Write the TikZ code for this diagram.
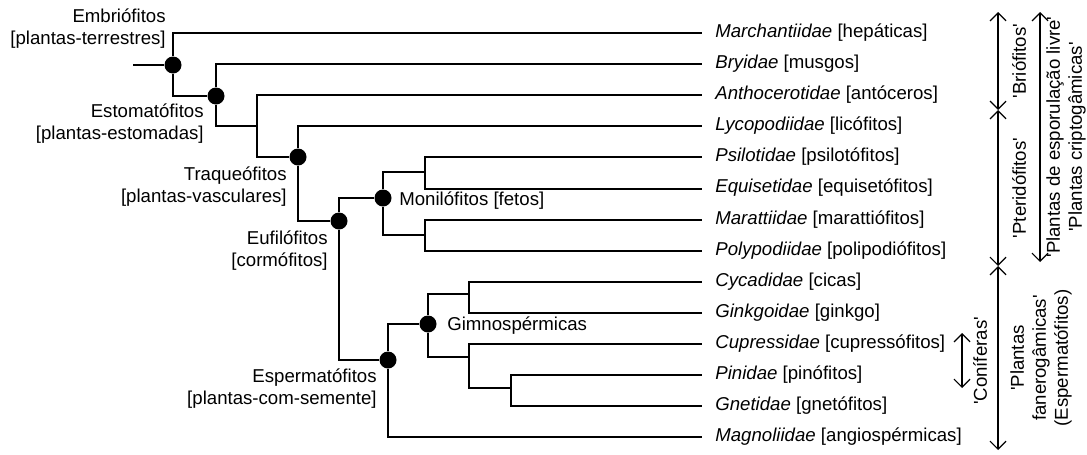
\documentclass[tikz,border=0pt]{standalone}
\usepackage{fontspec}
\setmainfont{Liberation Sans}[Ligatures=TeXOff]
\usetikzlibrary{arrows.meta}

\begin{document}
\begin{tikzpicture}[x=0.02cm,y=-0.02cm,
    font=\fontsize{10.6}{12.5}\selectfont,
    twig/.style={line width=1.13pt},
    knot/.style={circle,fill,inner sep=0pt,minimum size=0.34cm},
    leaf/.style={anchor=west,inner xsep=0.26cm,inner ysep=0pt,text height=0.72em,text depth=0.21em},
    cladetext/.style={anchor=east,align=right,inner sep=0pt},
    rangearrow/.style={{Straight Barb[length=1.6mm,width=3.2mm]}-{Straight Barb[length=1.6mm,width=3.2mm]},line width=0.7pt},
    rangetext/.style={rotate=90,align=center,inner sep=0pt}]
  \useasboundingbox (0,0) rectangle (1087,454);

  % terminal taxa
  \foreach \nm/\gen/\com [count=\i from 0] in {march/Marchantiidae/hepáticas,bry/Bryidae/musgos,
      antho/Anthocerotidae/antóceros,lyco/Lycopodiidae/licófitos,psil/Psilotidae/psilotófitos,
      equi/Equisetidae/equisetófitos,marat/Marattiidae/marattiófitos,poly/Polypodiidae/polipodiófitos,
      cyca/Cycadidae/cicas,gink/Ginkgoidae/ginkgo,cupr/Cupressidae/cupressófitos,
      pini/Pinidae/pinófitos,gnet/Gnetidae/gnetófitos,magn/Magnoliidae/angiospérmicas}
    \node[leaf] (\nm) at (702,33+31.1*\i) {\textit{\gen} [\com]};

  \coordinate (root) at (133,65);
  \node[knot] (embr) at (173,65) {};
  \node[knot] (estom) at (216,96) {};
  \coordinate (antho-j) at (257,126);
  \node[knot] (traq) at (298,157) {};
  \node[knot] (eufil) at (339,221) {};
  \node[knot] (monil) at (383,198) {};
  \coordinate (psil-j) at (425,172);
  \coordinate (marat-j) at (425,235);
  \node[knot] (esperm) at (388,360) {};
  \node[knot] (gimno) at (428,324) {};
  \coordinate (cyca-j) at (469,294);
  \coordinate (cupr-j) at (469,357);
  \coordinate (pini-j) at (511,388);

  \draw[twig] (root) -- (embr)
    (embr) |- (march.west) (embr) |- (estom)
    (estom) |- (bry.west) (estom) |- (antho-j)
    (antho-j) |- (antho.west) (antho-j) |- (traq)
    (traq) |- (lyco.west) (traq) |- (eufil)
    (eufil) |- (monil) (eufil) |- (esperm)
    (monil) |- (psil-j) (monil) |- (marat-j)
    (psil-j) |- (psil.west) (psil-j) |- (equi.west)
    (marat-j) |- (marat.west) (marat-j) |- (poly.west)
    (esperm) |- (gimno) (esperm) |- (magn.west)
    (gimno) |- (cyca-j) (gimno) |- (cupr-j)
    (cyca-j) |- (cyca.west) (cyca-j) |- (gink.west)
    (cupr-j) |- (cupr.west) (cupr-j) |- (pini-j)
    (pini-j) |- (pini.west) (pini-j) |- (gnet.west);

  \node[cladetext] (embr-l) at (166,29) {Embriófitos\\{}[plantas-terrestres]};
  \node[cladetext] (estom-l) at (204,124) {Estomatófitos\\{}[plantas-estomadas]};
  \node[cladetext] (traq-l) at (287,187) {Traqueófitos\\{}[plantas-vasculares]};
  \node[cladetext] (eufil-l) at (328,251) {Eufilófitos\\{}[cormófitos]};
  \node[cladetext] (esperm-l) at (377,389) {Espermatófitos\\{}[plantas-com-semente]};
  \node[anchor=west,inner sep=0pt] (monil-l) at (399,201) {Monilófitos [fetos]};
  \node[anchor=west,inner sep=0pt] (gimno-l) at (447,326) {Gimnospérmicas};

  % informal groups
  \coordinate (bri-t) at (998,12);
  \coordinate (bri-b) at (998,110);
  \coordinate (pter-b) at (998,266);
  \coordinate (fan-b) at (998,450);
  \coordinate (espor-t) at (1040,12);
  \coordinate (espor-b) at (1040,262);
  \coordinate (conif-t) at (962,333);
  \coordinate (conif-b) at (962,388);
  \draw[rangearrow] (bri-t) -- (bri-b);
  \draw[rangearrow] (bri-b) -- (pter-b);
  \draw[rangearrow] (pter-b) -- (fan-b);
  \draw[rangearrow] (espor-t) -- (espor-b);
  \draw[rangearrow] (conif-t) -- (conif-b);
  \node[rangetext] (bri) at (1019,61) {'Briófitos'};
  \node[rangetext] (pter) at (1019,188) {'Pteridófitos'};
  \node[rangetext] (fan) at (1041,358) {'Plantas\\fanerogâmicas'\\(Espermatófitos)};
  \node[rangetext] (espor) at (1066,137) {'Plantas de esporulação livre'\\'Plantas criptogâmicas'};
  \node[rangetext] (conif) at (980,361) {'Coníferas'};
\end{tikzpicture}
\end{document}
